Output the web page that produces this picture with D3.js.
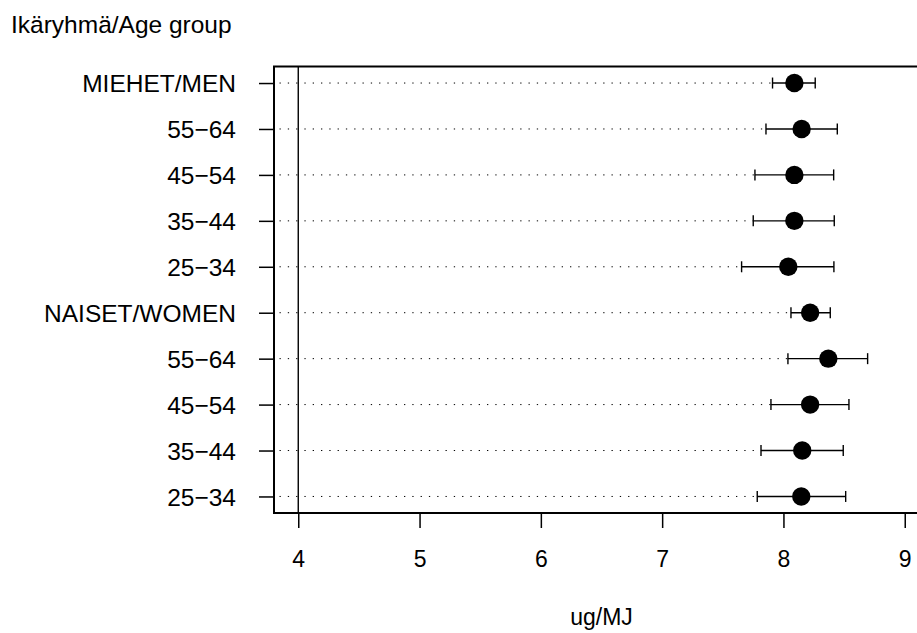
<!DOCTYPE html>
<html>
<head>
<meta charset="utf-8">
<script src="https://cdn.jsdelivr.net/npm/d3@7"></script>
<style>
html,body{margin:0;padding:0;background:#fff;}
svg{display:block;}
text{font-family:"Liberation Sans",Arial,Helvetica,sans-serif;fill:#000;}
</style>
</head>
<body>
<div id="chart"></div>
<script>
// Categories, top to bottom
const categories = ["MIEHET/MEN","55\u221264","45\u221254","35\u221244","25\u221234",
                    "NAISET/WOMEN","55\u221264","45\u221254","35\u221244","25\u221234"];
// Estimates and 95% confidence limits (ug/MJ)
const estimates = [8.09, 8.15, 8.09, 8.09, 8.04, 8.22, 8.37, 8.22, 8.155, 8.147];
const lowerCI   = [7.91, 7.856, 7.765, 7.751, 7.655, 8.062, 8.037, 7.897, 7.815, 7.784];
const upperCI   = [8.262, 8.444, 8.414, 8.419, 8.416, 8.386, 8.694, 8.54, 8.493, 8.513];
const xTicks = [4, 5, 6, 7, 8, 9];
const refValue = 4;
const yTitle = "Ikäryhmä/Age group";
const xTitle = "ug/MJ";

const W = 917, H = 633;
const svg = d3.select("#chart").append("svg").attr("width", W).attr("height", H);

const x = d3.scaleLinear().domain([3.8, 9.2]).range([274, 929]);
const n = categories.length;
// position 1 = bottom row, n = top row
const y = d3.scaleLinear().domain([0.64, n + 0.36]).range([513, 66.5]);
const rowPos = i => y(n - i);

const fsLab = 24.5, fsTick = 23;

// reference vertical line
svg.append("line")
  .attr("x1", x(refValue)).attr("x2", x(refValue))
  .attr("y1", y(0.64)).attr("y2", y(n + 0.36))
  .attr("stroke", "#000").attr("stroke-width", 1.4);

const rows = svg.append("g").selectAll("g").data(categories).join("g");

// dotted guide lines up to lower CI
rows.append("line")
  .attr("x1", x(3.8) + 1).attr("x2", (d, i) => x(lowerCI[i]))
  .attr("y1", (d, i) => rowPos(i)).attr("y2", (d, i) => rowPos(i))
  .attr("stroke", "#000").attr("stroke-width", 1)
  .attr("stroke-dasharray", "1.3,7").attr("stroke-dashoffset", -4.5);

// CI lines
rows.append("line")
  .attr("x1", (d, i) => x(lowerCI[i])).attr("x2", (d, i) => x(upperCI[i]))
  .attr("y1", (d, i) => rowPos(i)).attr("y2", (d, i) => rowPos(i))
  .attr("stroke", "#000").attr("stroke-width", 1.4);
// caps
[lowerCI, upperCI].forEach(arr => {
  rows.append("line")
    .attr("x1", (d, i) => x(arr[i])).attr("x2", (d, i) => x(arr[i]))
    .attr("y1", (d, i) => rowPos(i) - 5.5).attr("y2", (d, i) => rowPos(i) + 5.5)
    .attr("stroke", "#000").attr("stroke-width", 1.4);
});
// points
rows.append("circle")
  .attr("cx", (d, i) => x(estimates[i])).attr("cy", (d, i) => rowPos(i))
  .attr("r", 9.2).attr("fill", "#000");

// box
svg.append("rect")
  .attr("x", x(3.8)).attr("y", y(n + 0.36))
  .attr("width", x(9.2) - x(3.8)).attr("height", y(0.64) - y(n + 0.36))
  .attr("fill", "none").attr("stroke", "#000").attr("stroke-width", 2);

// x axis
const xAxis = d3.axisBottom(x).tickValues(xTicks).tickSize(15).tickPadding(22.5).tickFormat(d3.format("d"));
const gx = svg.append("g").attr("transform", `translate(0,${y(0.64)})`).call(xAxis);
gx.select(".domain").remove();
gx.selectAll(".tick line").attr("stroke", "#000").attr("stroke-width", 1.5);
gx.selectAll(".tick text").attr("font-size", fsTick).attr("font-family", "Liberation Sans, Arial, sans-serif").attr("dy", "0.71em");

// y axis
const yAxis = d3.axisLeft(y).tickValues(d3.range(1, n + 1)).tickSize(15).tickPadding(23)
  .tickFormat(v => categories[n - v]);
const gy = svg.append("g").attr("transform", `translate(${x(3.8)},0)`).call(yAxis);
gy.select(".domain").remove();
gy.selectAll(".tick line").attr("stroke", "#000").attr("stroke-width", 1.5);
gy.selectAll(".tick text").attr("font-size", fsLab).attr("font-family", "Liberation Sans, Arial, sans-serif").attr("dy", "0.35em");

// titles
svg.append("text").attr("x", 11).attr("y", 33).attr("font-size", fsLab).text(yTitle);
svg.append("text").attr("x", (x(3.8) + x(9.2)) / 2).attr("y", 624.5)
  .attr("text-anchor", "middle").attr("font-size", fsTick).text(xTitle);
</script>
</body>
</html>
